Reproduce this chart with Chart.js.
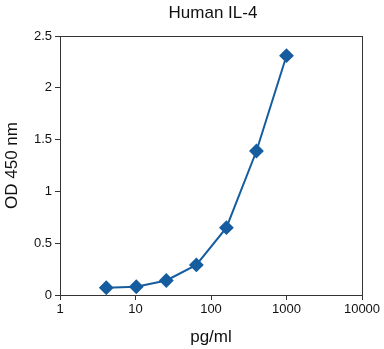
<!DOCTYPE html>
<html>
<head>
<meta charset="utf-8">
<script src="https://cdn.jsdelivr.net/npm/chart.js@4/dist/chart.umd.min.js"></script>
<style>
html,body{margin:0;padding:0;background:#fff;}
#wrap{width:384px;height:349px;}
</style>
</head>
<body>
<div id="wrap"><canvas id="c" width="384" height="349"></canvas></div>
<script>
const concentrations = [4.1, 10.24, 25.6, 64, 160, 400, 1000];
const odValues = [0.07, 0.08, 0.14, 0.29, 0.65, 1.39, 2.31];
const xTickValues = [1, 10, 100, 1000, 10000];
const yTickValues = [0, 0.5, 1, 1.5, 2, 2.5];
const chartTitle = 'Human IL-4';
const xTitle = 'pg/ml';
const yTitle = 'OD 450 nm';

const color = '#155d9f';
const font = 'Liberation Sans, Arial, Helvetica, sans-serif';

const frame = {
  id: 'frame',
  afterDraw(chart) {
    const a = chart.chartArea, ctx = chart.ctx;
    ctx.save();
    ctx.strokeStyle = '#333';
    ctx.lineWidth = 1;
    ctx.strokeRect(Math.round(a.left) + 0.5, Math.round(a.top) + 0.5, Math.round(a.right - a.left), Math.round(a.bottom - a.top));
    ctx.fillStyle = '#111';
    ctx.font = '17px ' + font;
    ctx.textAlign = 'center';
    ctx.textBaseline = 'middle';
    ctx.fillText(chartTitle, (a.left + a.right) / 2 + 2, 13);
    ctx.restore();
  }
};

new Chart(document.getElementById('c'), {
  type: 'line',
  data: {
    datasets: [{
      data: concentrations.map((x, i) => ({x: x, y: odValues[i]})),
      borderColor: color,
      backgroundColor: color,
      borderWidth: 2,
      pointStyle: 'rectRot',
      pointRadius: 6,
      pointHoverRadius: 6,
      tension: 0
    }]
  },
  options: {
    responsive: false,
    animation: false,
    events: [],
    layout: {padding: {left: 0, right: 22, top: 36, bottom: 0}},
    plugins: {
      legend: {display: false},
      tooltip: {enabled: false},
      title: {display: false}
    },
    scales: {
      x: {
        type: 'logarithmic',
        min: 1,
        max: 10000,
        afterBuildTicks(s) { s.ticks = xTickValues.map(v => ({value: v})); },
        afterFit(s) { s.height = 54; },
        ticks: {
          callback: v => String(v),
          color: '#111',
          font: {family: font, size: 13},
          padding: 2,
          maxRotation: 0,
          autoSkip: false
        },
        grid: {display: true, drawOnChartArea: false, drawTicks: true, tickLength: 5, color: '#333'},
        border: {display: true, color: '#333'},
        title: {display: true, text: xTitle, color: '#111', font: {family: font, size: 17}, padding: {top: 6, bottom: 1}}
      },
      y: {
        type: 'linear',
        min: 0,
        max: 2.5,
        afterBuildTicks(s) { s.ticks = yTickValues.map(v => ({value: v})); },
        afterFit(s) { s.width = 60; },
        ticks: {
          callback: v => String(v),
          color: '#111',
          font: {family: font, size: 13},
          padding: 3
        },
        grid: {display: true, drawOnChartArea: false, drawTicks: true, tickLength: 5, color: '#333'},
        border: {display: true, color: '#333'},
        title: {display: true, text: yTitle, color: '#111', font: {family: font, size: 17}, padding: {top: 2, bottom: 0}}
      }
    }
  },
  plugins: [frame]
});
</script>
</body>
</html>
